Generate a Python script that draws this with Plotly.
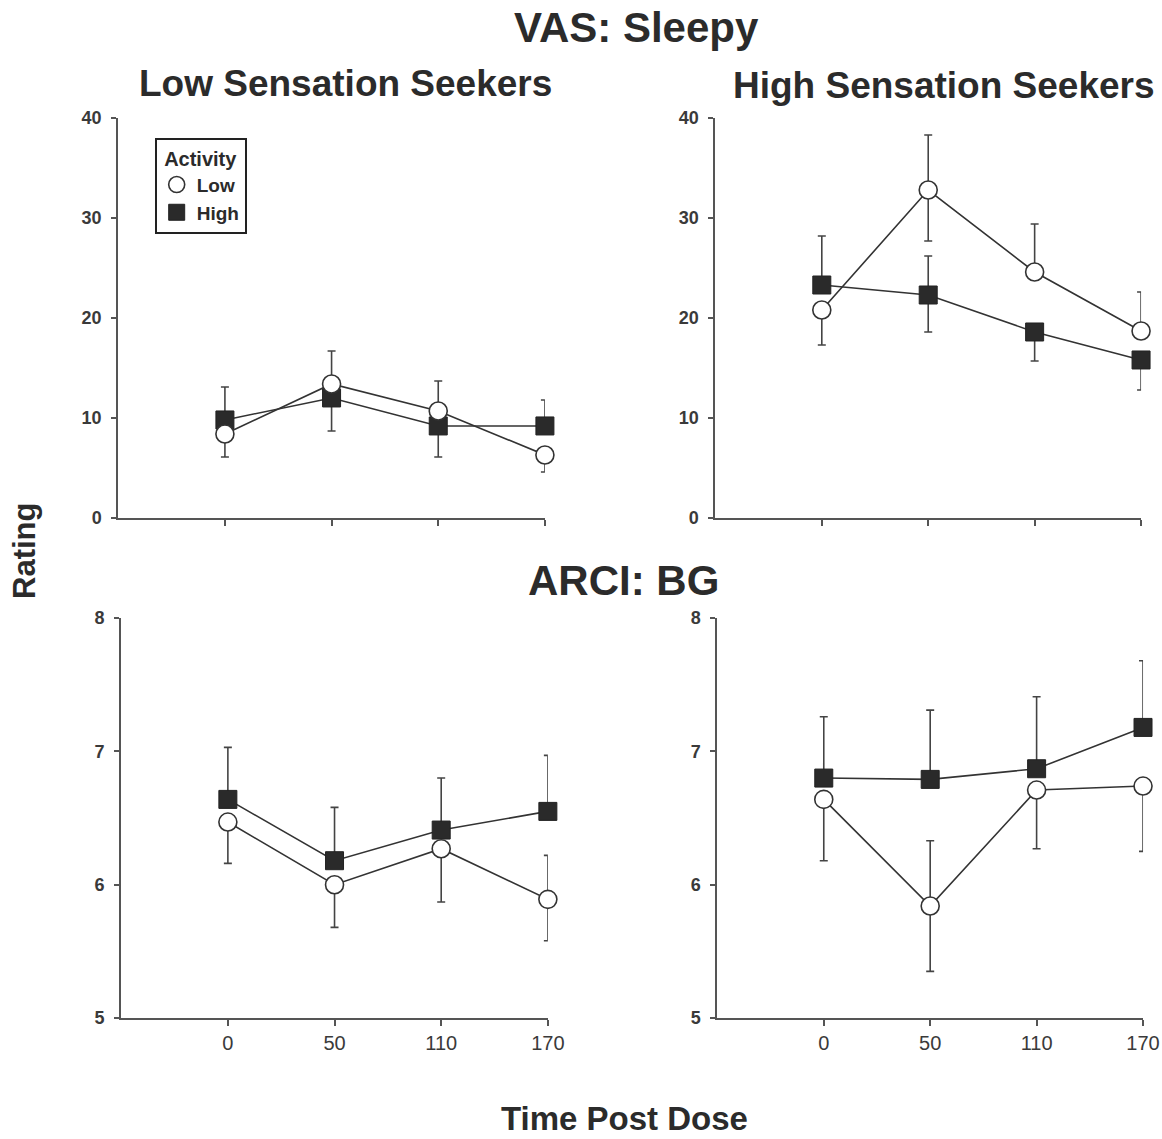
import plotly.graph_objects as go

# ---------------- data ----------------
time_labels = ["0", "50", "110", "170"]
x_pos = [1, 2, 3, 4]

# VAS: Sleepy - Low Sensation Seekers
vas_lss_low = [8.4, 13.4, 10.7, 6.3]
vas_lss_low_plus = [0, 3.3, 3.0, 0]
vas_lss_low_minus = [2.3, 0, 0, 1.7]
vas_lss_high = [9.8, 12.0, 9.2, 9.2]
vas_lss_high_plus = [3.3, 0, 0, 2.6]
vas_lss_high_minus = [0, 3.3, 3.1, 0]

# VAS: Sleepy - High Sensation Seekers
vas_hss_low = [20.8, 32.8, 24.6, 18.7]
vas_hss_low_plus = [0, 5.5, 4.8, 3.9]
vas_hss_low_minus = [3.5, 5.1, 0, 0]
vas_hss_high = [23.3, 22.3, 18.6, 15.8]
vas_hss_high_plus = [4.9, 3.9, 0, 0]
vas_hss_high_minus = [0, 3.7, 2.9, 3.0]

# ARCI: BG - Low Sensation Seekers
bg_lss_low = [6.47, 6.00, 6.27, 5.89]
bg_lss_low_plus = [0, 0, 0, 0.33]
bg_lss_low_minus = [0.31, 0.32, 0.40, 0.31]
bg_lss_high = [6.64, 6.18, 6.41, 6.55]
bg_lss_high_plus = [0.39, 0.40, 0.39, 0.42]
bg_lss_high_minus = [0, 0, 0, 0]

# ARCI: BG - High Sensation Seekers
bg_hss_low = [6.64, 5.84, 6.71, 6.74]
bg_hss_low_plus = [0, 0.49, 0, 0]
bg_hss_low_minus = [0.46, 0.49, 0.44, 0.49]
bg_hss_high = [6.80, 6.79, 6.87, 7.18]
bg_hss_high_plus = [0.46, 0.52, 0.54, 0.50]
bg_hss_high_minus = [0, 0, 0, 0]

vas_ticks = [0, 10, 20, 30, 40]
bg_ticks = [5, 6, 7, 8]

# ---------------- figure ----------------
W, H = 1162, 1139
FONT = "Liberation Sans, Arial, Helvetica, sans-serif"
TXT = "#2b2b2b"
AX = "#555555"
LINE = "#333333"

def px_x(a, b):
    return [a / W, min(b / W, 1.0)]

def px_y(top, bottom):
    return [1 - bottom / H, 1 - top / H]

fig = go.Figure()

panels = [
    ("x", "y", vas_lss_low, vas_lss_low_plus, vas_lss_low_minus,
     vas_lss_high, vas_lss_high_plus, vas_lss_high_minus),
    ("x2", "y2", vas_hss_low, vas_hss_low_plus, vas_hss_low_minus,
     vas_hss_high, vas_hss_high_plus, vas_hss_high_minus),
    ("x3", "y3", bg_lss_low, bg_lss_low_plus, bg_lss_low_minus,
     bg_lss_high, bg_lss_high_plus, bg_lss_high_minus),
    ("x4", "y4", bg_hss_low, bg_hss_low_plus, bg_hss_low_minus,
     bg_hss_high, bg_hss_high_plus, bg_hss_high_minus),
]

for xa, ya, lo, lop, lom, hi, hip, him in panels:
    fig.add_trace(go.Scatter(
        x=x_pos, y=hi, xaxis=xa, yaxis=ya, mode="lines+markers",
        showlegend=False, cliponaxis=False,
        line=dict(color=LINE, width=1.6),
        marker=dict(symbol="square", size=18, color="#2a2a2a",
                    line=dict(color="#222222", width=1)),
        error_y=dict(type="data", symmetric=False, array=hip, arrayminus=him,
                     color="#444444", thickness=1.6, width=4),
    ))
    fig.add_trace(go.Scatter(
        x=x_pos, y=lo, xaxis=xa, yaxis=ya, mode="lines+markers",
        showlegend=False, cliponaxis=False,
        line=dict(color=LINE, width=1.6),
        marker=dict(symbol="circle", size=18, color="white",
                    line=dict(color="#333333", width=1.6)),
        error_y=dict(type="data", symmetric=False, array=lop, arrayminus=lom,
                     color="#444444", thickness=1.6, width=4),
    ))

# legend-only entries (markers only, as in the reference)
fig.add_trace(go.Scatter(
    x=[None], y=[None], mode="markers", name="<b>Low</b>",
    marker=dict(symbol="circle", size=16, color="white",
                line=dict(color="#333333", width=1.6)),
))
fig.add_trace(go.Scatter(
    x=[None], y=[None], mode="markers", name="<b>High</b>",
    marker=dict(symbol="square", size=16, color="#2a2a2a",
                line=dict(color="#222222", width=1)),
))

def xaxis(dom, labels, anchor):
    return dict(domain=dom, range=[0, 4], anchor=anchor,
                tickvals=x_pos, ticktext=time_labels,
                showline=True, linecolor=AX, linewidth=2,
                ticks="outside", ticklen=6, tickwidth=1.6, tickcolor=AX,
                showgrid=False, zeroline=False,
                showticklabels=labels,
                tickfont=dict(family=FONT, size=20, color="#3a3a3a"))

def yaxis(dom, rng, ticks, anchor):
    return dict(domain=dom, range=rng, anchor=anchor, tickvals=ticks,
                ticktext=[f"<b>{t}</b>" for t in ticks],
                showline=True, linecolor=AX, linewidth=2,
                ticks="outside", ticklen=5, tickwidth=1.6, tickcolor=AX,
                ticklabelstandoff=6,
                showgrid=False, zeroline=False,
                tickfont=dict(family=FONT, size=18, color="#3a3a3a"))

top_y = px_y(110, 517)
bot_y = px_y(619, 1026)

fig.update_layout(
    width=W, height=H,
    margin=dict(l=0, r=0, t=0, b=0),
    paper_bgcolor="white", plot_bgcolor="white",
    font=dict(family=FONT, color=TXT),
    xaxis=xaxis(px_x(120, 553), False, "y"),
    yaxis=yaxis(top_y, [0, 40], vas_ticks, "x"),
    xaxis2=xaxis(px_x(726, 1158), False, "y2"),
    yaxis2=yaxis(top_y, [0, 40], vas_ticks, "x2"),
    xaxis3=xaxis(px_x(123, 556), True, "y3"),
    yaxis3=yaxis(bot_y, [5, 8], bg_ticks, "x3"),
    xaxis4=xaxis(px_x(728, 1160), True, "y4"),
    yaxis4=yaxis(bot_y, [5, 8], bg_ticks, "x4"),
    legend=dict(
        x=157 / W, y=1 - 130 / H, xanchor="left", yanchor="top",
        title=dict(text="<b>Activity</b>", side="top center",
                   font=dict(family=FONT, size=20, color=TXT)),
        font=dict(family=FONT, size=19, color=TXT),
        bordercolor="#222222", borderwidth=2, bgcolor="white",
        itemwidth=30, tracegroupgap=0,
    ),
    showlegend=True,
)

def label(text, xp, yp, size, angle=0):
    fig.add_annotation(text=f"<b>{text}</b>", x=xp / W, y=1 - yp / H,
                       xref="paper", yref="paper", showarrow=False,
                       xanchor="center", yanchor="middle", textangle=angle,
                       font=dict(family=FONT, size=size, color=TXT))

label("VAS: Sleepy", 646, 18, 42)
label("Low Sensation Seekers", 351, 75, 37)
label("High Sensation Seekers", 958, 77, 37)
label("ARCI: BG", 633, 581, 42)
label("Rating", 25, 551, 31, angle=-90)
label("Time Post Dose", 634, 1128, 33)

fig.write_html("out.html")
